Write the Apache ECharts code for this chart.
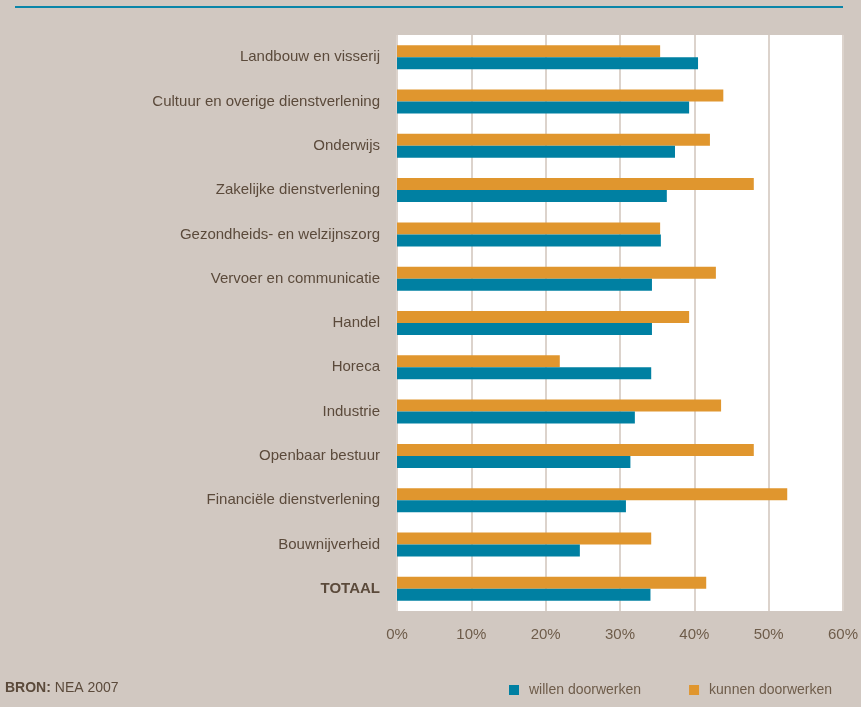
<!DOCTYPE html>
<html><head><meta charset="utf-8">
<script src="https://cdn.jsdelivr.net/npm/echarts@6/dist/echarts.min.js"></script>
<style>html,body{margin:0;padding:0;background:#d1c8c1;}#c{width:861px;height:707px;}</style>
</head><body><div id="c"></div>
<script>
const categories = ['Landbouw en visserij','Cultuur en overige dienstverlening','Onderwijs','Zakelijke dienstverlening','Gezondheids- en welzijnszorg','Vervoer en communicatie','Handel','Horeca','Industrie','Openbaar bestuur','Financiële dienstverlening','Bouwnijverheid','TOTAAL'];
const kunnen = [35.4, 43.9, 42.1, 48.0, 35.4, 42.9, 39.3, 21.9, 43.6, 48.0, 52.5, 34.2, 41.6];
const willen = [40.5, 39.3, 37.4, 36.3, 35.5, 34.3, 34.3, 34.2, 32.0, 31.4, 30.8, 24.6, 34.1];
const xTicks = [0, 10, 20, 30, 40, 50, 60];
const seriesNames = ['willen doorwerken', 'kunnen doorwerken'];

const chart = echarts.init(document.getElementById('c'), null, {renderer: 'canvas'});
const fontFam = '"Liberation Sans", Arial, sans-serif';
chart.setOption({
  backgroundColor: '#d1c8c1',
  animation: false,
  textStyle: {fontFamily: fontFam},
  grid: {left: 397, right: 18, top: 35, bottom: 96, show: true, backgroundColor: '#ffffff', borderWidth: 0, containLabel: false},
  xAxis: {
    type: 'value', min: xTicks[0], max: xTicks[xTicks.length - 1], interval: xTicks[1] - xTicks[0],
    axisLine: {show: false}, axisTick: {show: false},
    splitLine: {show: true, lineStyle: {color: '#dcd3cc', width: 2}},
    axisLabel: {formatter: '{value}%', color: '#6e5c4a', fontSize: 15, margin: 16, fontFamily: fontFam}
  },
  yAxis: {
    type: 'category', data: categories, inverse: true,
    axisLine: {show: false}, axisTick: {show: false},
    axisLabel: {
      color: '#5b4a3b', fontSize: 15, margin: 17, fontFamily: fontFam,
      formatter: function (v) { return v === 'TOTAAL' ? '{b|' + v + '}' : v; },
      rich: {b: {fontWeight: 'bold', color: '#5b4a3b', fontSize: 15, fontFamily: fontFam}}
    }
  },
  legend: {
    data: seriesNames, left: 504, top: 678, itemWidth: 10, itemHeight: 10, itemGap: 48,
    icon: 'rect',
    textStyle: {color: '#6e5c4a', fontSize: 14, fontFamily: fontFam, padding: [0, 0, 0, 5]}
  },
  series: [
    {name: seriesNames[1], type: 'bar', data: kunnen, barWidth: 12, barGap: '0%', itemStyle: {color: '#e0962e'}},
    {name: seriesNames[0], type: 'bar', data: willen, barWidth: 12, barGap: '0%', itemStyle: {color: '#0080a2'}}
  ],
  graphic: [
    {type: 'line', shape: {x1: 15, y1: 7, x2: 843, y2: 7}, style: {stroke: '#0a85a8', lineWidth: 2}},
    {type: 'text', left: 5, top: 681, style: {
      text: '{b|BRON:} NEA 2007', fill: '#5b4a3b', font: '14px ' + fontFam,
      rich: {b: {fontWeight: 'bold', fill: '#5b4a3b', fontSize: 14, fontFamily: fontFam}}
    }}
  ]
});
</script></body></html>
